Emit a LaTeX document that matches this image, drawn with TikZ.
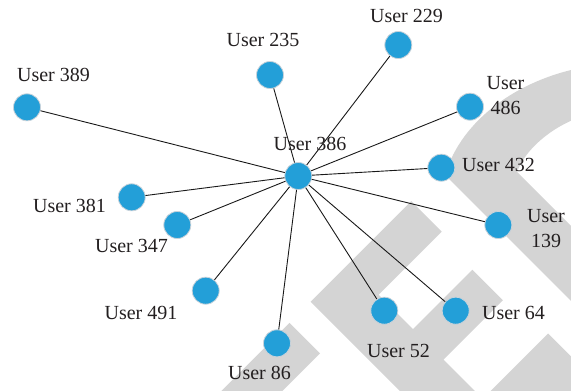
\documentclass[tikz,border=0pt]{standalone}
\usepackage{fontspec}
\setmainfont{Liberation Serif}
\definecolor{nodeblue}{RGB}{35,159,216}
\definecolor{wm}{RGB}{212,212,212}
\definecolor{nodeborder}{RGB}{200,210,218}
\definecolor{txt}{RGB}{35,31,32}
\begin{document}
\begin{tikzpicture}[x=1pt,y=-1pt,
  user/.style={circle, fill=nodeblue, draw=nodeborder, line width=0.8pt, minimum size=27pt, inner sep=0pt},
  lab/.style={font=\fontsize{20}{25}\selectfont, text=txt, inner sep=0pt},
  link/.style={line width=0.9pt, draw=black!90}]
\useasboundingbox (0,0) rectangle (571,391);
% watermark
\begin{scope}
\clip (0,0) rectangle (571,391);
\fill[wm] (310.7,301.7) -- (411.2,201.2) -- (441.7,231.7) -- (378.7,294.7) -- (413,329) -- (472.4,269.7) -- (502.9,300.2) -- (443.5,359.5) -- (484,400) -- (409,400) -- cycle;
\fill[wm] (548,333.5) -- (620,405.5) -- (476,405.5) -- cycle;
\fill[wm] (289.5,322.9) -- (320,353.4) -- (273.4,400) -- (212.4,400) -- cycle;
\fill[wm] (580,68) .. controls (520,80) and (462,118) .. (445,175) -- (650,380) -- (650,305) -- (517,172) .. controls (525,150) and (550,128) .. (580,117) -- cycle;
\end{scope}
% nodes
\node[user] (u386) at (298.3,176) {};
\node[user] (u389) at (27,107.3) {};
\node[user] (u235) at (270,75) {};
\node[user] (u229) at (398.3,45) {};
\node[user] (u486) at (470,106.7) {};
\node[user] (u432) at (441.3,167.7) {};
\node[user] (u381) at (131.7,197.3) {};
\node[user] (u347) at (177.3,225) {};
\node[user] (u491) at (205.7,290.7) {};
\node[user] (u86) at (277,343.3) {};
\node[user] (u139) at (498.3,225) {};
\node[user] (u52) at (384.3,310.7) {};
\node[user] (u64) at (455.7,310.7) {};
% links
\foreach \t in {u389,u235,u229,u486,u432,u381,u347,u491,u86,u139,u52,u64}
  \draw[link] (u386) -- (\t);
% labels
\node[lab, anchor=base] (l389) at (53.5,81) {User 389};
\node[lab, anchor=base] (l235) at (263,46) {User 235};
\node[lab, anchor=base] (l229) at (406.5,22.7) {User 229};
\node[lab, align=center] (l486) at (505.5,95.1) {User\\486};
\node[lab, anchor=base] (l386) at (310,150) {User 386};
\node[lab, anchor=base] (l432) at (498.5,171.7) {User 432};
\node[lab, anchor=base] (l381) at (69.5,212.7) {User 381};
\node[lab, anchor=base] (l347) at (131.5,252.7) {User 347};
\node[lab, anchor=base] (l491) at (141,319.3) {User 491};
\node[lab, anchor=base] (l86) at (259.5,379.3) {User 86};
\node[lab, align=center] (l139) at (546,228.5) {User\\139};
\node[lab, anchor=base] (l52) at (398.5,357.7) {User 52};
\node[lab, anchor=base] (l64) at (513.5,319.3) {User 64};
\end{tikzpicture}
\end{document}
